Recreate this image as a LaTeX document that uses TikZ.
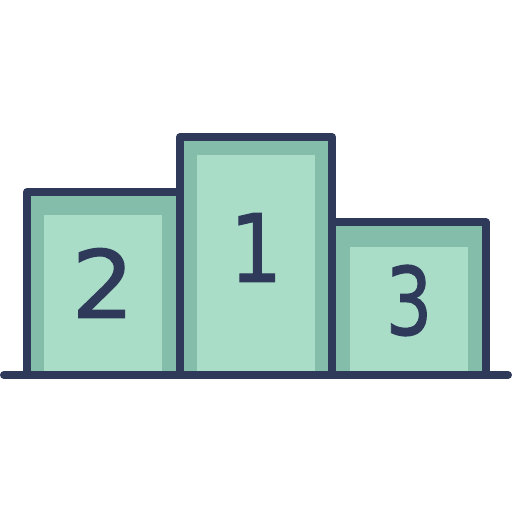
\documentclass[tikz,border=0pt]{standalone}
\usepackage{fontspec}
\setmainfont[FakeBold=0.6]{DejaVu Sans}
\definecolor{inkc}{HTML}{2F3A5A}
\definecolor{midc}{HTML}{85BDAB}
\definecolor{lightc}{HTML}{A9DDC7}
\tikzset{
  outline/.style={draw=inkc,line width=8pt,line join=round,line cap=round},
  shade/.style={fill=midc},
  face/.style={fill=lightc},
  digit/.style={text=inkc,font=\fontsize{94}{94}\selectfont\bfseries,inner sep=0pt,anchor=center}
}
\setmainfont[BoldFont={DejaVu Sans},BoldFeatures={FakeBold=1.2}]{DejaVu Sans}
\begin{document}
\begin{tikzpicture}[x=1pt,y=-1pt]
\useasboundingbox (0,0) rectangle (512,512);
% fills
\fill[shade] (27,192) rectangle (180,375);
\fill[shade] (180,137) rectangle (332,375);
\fill[shade] (332,222) rectangle (485.5,375);
\fill[face] (44,215) rectangle (162,371);
\fill[face] (197,155) rectangle (315,371);
\fill[face] (350,247) rectangle (468,371);
% outlines
\coordinate (gl) at (4,375);
\coordinate (gr) at (508,375);
\draw[outline] (27,375) -- (27,192) -- (180,192);
\draw[outline] (180,375) -- (180,137) -- (332,137) -- (332,375);
\draw[outline] (332,222) -- (485.5,222) -- (485.5,375);
\draw[outline] (gl) -- (gr);
% digits
\node[digit,xscale=1.05] (two) at (103,283) {2};
\node[digit,xscale=0.88] (one) at (256,247.5) {1};
\node[digit,xscale=0.78] (three) at (409,300.5) {3};
\end{tikzpicture}
\end{document}
